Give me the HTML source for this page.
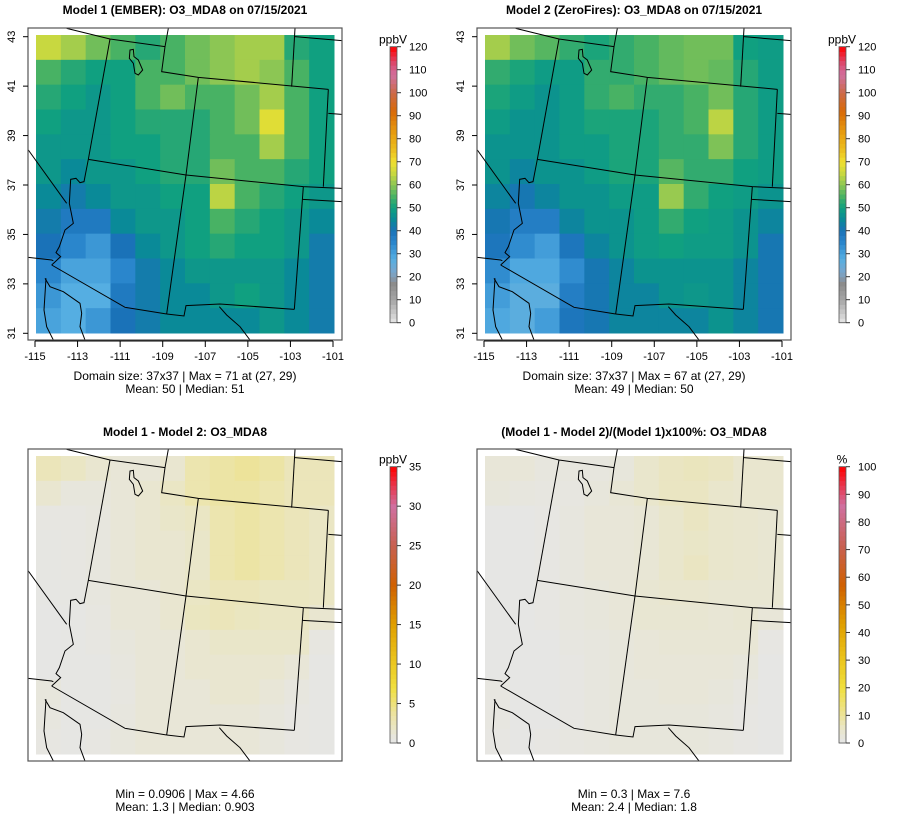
<!DOCTYPE html>
<html><head><meta charset="utf-8"><style>
body{margin:0;background:#fff;}
svg{display:block;font-family:"Liberation Sans",sans-serif;}
</style></head><body>
<svg id="chart" width="900" height="840" viewBox="0 0 900 840"></svg>
<script>
// ---- data (12x12 coarse grids, rows north->south, cols west->east) ----
const model1Grid=[
[65,62,58,55,52,55,58,60,62,62,52,50],
[55,52,50,50,55,55,58,60,62,60,55,50],
[52,50,48,50,55,58,55,55,58,62,55,50],
[50,48,48,50,52,52,52,55,58,68,55,50],
[48,48,48,50,50,52,52,55,55,62,55,50],
[48,45,48,48,50,52,52,58,55,55,52,50],
[45,42,45,48,48,50,50,64,55,52,50,48],
[42,38,38,45,48,48,50,55,52,50,48,45],
[40,35,32,40,45,48,50,52,50,50,48,42],
[35,30,30,35,42,45,48,48,48,48,45,42],
[32,28,28,38,42,45,45,48,50,48,45,42],
[30,28,32,40,42,45,45,45,45,48,45,42]];
const model2Grid=[
[62,58,56,53,51,53,55,57,58,58,50,49],
[53,51,49,49,53,53,55,57,58,57,52,49],
[51,49,47,49,53,55,53,53,55,58,52,49],
[49,47,47,49,51,51,51,53,55,64,52,49],
[47,47,47,49,49,51,51,53,53,59,52,49],
[47,44,47,47,49,51,51,56,53,53,50,49],
[44,41,44,47,47,49,49,61,53,50,49,47],
[41,37,37,44,47,47,49,53,50,49,47,44],
[39,34,31,39,44,47,49,50,49,49,47,41],
[34,29,29,34,41,44,47,47,47,47,44,41],
[31,27,27,37,41,44,44,47,48,47,44,41],
[29,27,31,39,41,44,44,44,44,47,44,41]];
const diffGrid=[
[2.5,2,1.5,1.2,1.2,1.5,3,3.5,4,3.5,2.5,2.5],
[1.5,1,1,1.2,1.5,2,3,3.5,3.5,3,2.5,2.5],
[0.5,0.5,0.8,1.2,1.5,1.8,2,3,3.5,3,2.5,2],
[0.4,0.5,0.8,1.2,1.5,1.5,1.8,3,3.5,3,2.5,2],
[0.4,0.5,0.8,1.2,1.5,1.5,1.8,3,3.5,3,2.5,2],
[0.3,0.4,0.8,1.2,1.2,1.5,2,2.5,2.5,2.2,2.2,2],
[0.2,0.3,0.6,1.2,1.2,1.5,2.2,2.5,2.2,2,2,1.5],
[0.2,0.3,0.5,1,1.2,1.2,1.5,1.8,1.8,1.8,1.8,0.6],
[0.2,0.3,0.3,0.8,1.2,1.2,1.5,1.5,1.5,1.5,1.2,0.3],
[1,0.3,0.3,0.6,1.2,1.2,1.2,1.5,1.5,1.2,0.8,0.3],
[0.8,0.3,0.3,0.8,1.2,1.2,1.2,1.2,1.2,1,0.5,0.3],
[0.5,0.3,0.5,1,1.2,1.2,1.2,1.2,1.2,1,0.5,0.3]];
const pctGrid=[
[3,3,2,2,2,2.5,5,6,6.5,6,4.5,4.5],
[2.5,2,1.5,1.5,2.5,3.5,5,6,6,5,4.5,4.5],
[0.5,0.5,1,2,3,3,3.5,5,6,5,4.5,4],
[0.5,0.5,1,2,3,3,3.5,5,5.5,5,4.5,4],
[0.5,0.5,1,2,3,3,3.5,5,6,5,4.5,4],
[0.5,0.5,1,2,2.5,3,4,4.5,4.5,4,4,4],
[0.5,0.5,1,2,2.5,3,4,4,4,3.5,4,3],
[0.5,0.5,0.5,1.5,2,2.5,3,3.5,3.5,3.5,3.5,1],
[0.5,0.5,0.5,1,2,2.5,3,3,3,3,2.5,0.5],
[1.5,0.5,0.5,1,2,2.5,2.5,3,3,2.5,1.5,0.5],
[1.5,0.5,0.5,1,2,2.5,2.5,2.5,2.5,2,1,0.5],
[1,0.5,1,1.5,2,2.5,2.5,2.5,2.5,2,1,0.5]];
const xTickLabels=["-115","-113","-111","-109","-107","-105","-103","-101"];
const yTickLabels=["43","41","39","37","35","33","31"];
const ppbTicks=[0,10,20,30,40,50,60,70,80,90,100,110,120];
const diffTicks=[0,5,10,15,20,25,30,35];
const pctTicks=[0,10,20,30,40,50,60,70,80,90,100];

const ozStops=[[0,"#e6e6e6"],[10,"#a6a6a6"],[17,"#8c8c8c"],[22,"#7aa6cc"],[28,"#55aee2"],[35,"#2a86cc"],[40,"#1a72b8"],[45,"#0a8a98"],[50,"#10a080"],[55,"#48b264"],[60,"#8cc654"],[65,"#c8d840"],[70,"#f0e030"],[75,"#ecc020"],[82,"#e8a010"],[92,"#d86a08"],[100,"#cc6a48"],[108,"#d070a0"],[114,"#e04060"],[120,"#ff0000"]];
const diffStops=[[0,"#e6e6e6"],[1,"#e7e6dc"],[2,"#eae6c4"],[4,"#ede39a"],[7,"#f0e040"],[10,"#ecc820"],[15,"#e0a000"],[20,"#d06000"],[25,"#c86050"],[30,"#d070a0"],[35,"#ff0000"]];
const pctStops=[[0,"#e6e6e6"],[2,"#e7e6de"],[5,"#e9e6cc"],[10,"#ede39a"],[20,"#f0e040"],[29,"#ecc820"],[43,"#e0a000"],[57,"#d06000"],[71,"#c86050"],[86,"#d070a0"],[100,"#ff0000"]];

function hex(c){return [1,3,5].map(i=>parseInt(c.substr(i,2),16));}
function colorAt(stops,v){
  if(v<=stops[0][0])return stops[0][1];
  for(let i=1;i<stops.length;i++){if(v<=stops[i][0]){const a=stops[i-1],b=stops[i];const t=(v-a[0])/(b[0]-a[0]);const ca=hex(a[1]),cb=hex(b[1]);return "rgb("+ca.map((x,k)=>Math.round(x+(cb[k]-x)*t)).join(",")+")";}}
  return stops[stops.length-1][1];
}
const NS="http://www.w3.org/2000/svg";
const svg=document.getElementById('chart');
function el(tag,attrs,parent){const e=document.createElementNS(NS,tag);for(const k in attrs)e.setAttribute(k,attrs[k]);(parent||svg).appendChild(e);return e;}
function txt(s,attrs,parent){const e=el('text',attrs,parent);e.textContent=s;return e;}

const borders=[
"M140,25 L270,57 L435,80","M445,25 L435,80 L425,155 L535,172 L925,208","M825,25 L815,200","M825,50 L965,62",
"M925,208 L910,500","M925,280 L965,283","M498,465 L850,500 L965,505","M270,57 L205,418","M205,418 L498,465",
"M535,172 L498,465","M498,465 L440,882","M850,500 L823,868","M848,538 L965,545",
"M823,868 L600,852 L498,857 L492,888 L440,882","M440,882 L315,862 L95,735","M25,390 L140,550",
"M205,418 L192,485 L180,488 L168,475 L152,478 L148,550 L160,610 L135,630 L118,680 L108,698 L122,710 L95,735",
"M25,712 L95,720 L100,722",
"M75,775 L90,800 L130,815 L180,850 L185,880 L180,920 L195,960","M78,775 L72,870 L80,920 L100,960",
"M598,860 L620,885 L660,920 L690,960",
"M330,90 L340,88 L342,110 L355,120 L368,150 L355,165 L345,160 L340,130 L328,115 Z"];

const defs=el('defs',{});
function panel(ox,oy,grid,stops,opts){
  const g=el('g',{});
  const rx=36+ox, ry=35+oy, rw=298, rh=298;
  const cw=rw/grid[0].length, ch=rh/grid.length;
  const rg=el('g',{},g);
  
  
  grid.forEach((row,i)=>row.forEach((v,j)=>{
    const r=el('rect',{x:rx+j*cw,y:ry+i*ch,width:cw+0.5,height:ch+0.5,fill:colorAt(stops,v)},rg);
    
    
  }));
  const cp=el('clipPath',{id:'cp'+opts.id},defs);
  el('rect',{x:28+ox,y:28+oy,width:314,height:312},cp);
  const clipG=el('g',{'clip-path':'url(#cp'+opts.id+')'},g);
  const mg=el('g',{transform:`translate(${20+ox},${20+oy}) scale(0.33333)`,fill:'none',stroke:'#000','stroke-width':3},clipG);
  
  
  borders.forEach(d=>el('path',{d:d},mg));
  const box=el('rect',{x:28+ox,y:28+oy,width:314,height:312,fill:'none',stroke:'#555','stroke-width':1.2},g);
  
  
  txt(opts.title,{x:185+ox,y:14+oy+(oy?1:0),'text-anchor':'middle','font-size':12,'font-weight':'bold'},g);
  if(opts.axes){
    const xa=el('g',{},g);
    xTickLabels.forEach((t,i)=>{const x=35+ox+i*(298/7);el('line',{x1:x,x2:x,y1:341+oy,y2:347+oy,stroke:'#000'},xa);txt(t,{x:x,y:360+oy,'text-anchor':'middle','font-size':11},xa);});
    el('line',{x1:35+ox,x2:333+ox,y1:341+oy,y2:341+oy,stroke:'#000'},xa);
    const ya=el('g',{},g);
    yTickLabels.forEach((t,i)=>{const y=36.7+oy+i*(296.6/6);el('line',{x1:23+ox,x2:28+ox,y1:y,y2:y,stroke:'#000'},ya);txt(t,{x:15+ox,y:y,'text-anchor':'middle','font-size':11,transform:`rotate(-90 ${15+ox} ${y})`},ya);});
  }
  txt(opts.s1,{x:185+ox,y:opts.sy+oy,'text-anchor':'middle','font-size':12},g);
  txt(opts.s2,{x:185+ox,y:opts.sy+13+oy,'text-anchor':'middle','font-size':12},g);
  const cb=el('g',{},g);
  const ticks=opts.ticks, mx=ticks[ticks.length-1];
  const top=opts.cbTop+oy, bot=opts.cbBot+oy, bx=390+ox;
  const n=60;
  for(let k=0;k<n;k++){const v0=k*mx/n;el('rect',{x:bx,y:bot-(k+1)*(bot-top)/n,width:7,height:(bot-top)/n+0.6,fill:colorAt(stops,v0+mx/n/2)},cb);}
  el('rect',{x:bx,y:top,width:7,height:bot-top,fill:'none',stroke:'#555','stroke-width':0.8},cb);
  ticks.forEach(t=>{const y=bot-(t/mx)*(bot-top);el('line',{x1:bx+7,x2:bx+11,y1:y,y2:y,stroke:'#333'},cb);txt(String(t),{x:bx+19,y:y+4,'font-size':11},cb);});
  txt(opts.unit,{x:bx+3,y:top-3,'text-anchor':'middle','font-size':12},cb);
}
panel(0,0,model1Grid,ozStops,{id:1,name:'panel-model1',title:'Model 1 (EMBER): O3_MDA8 on 07/15/2021',axes:true,s1:'Domain size: 37x37 | Max = 71 at (27, 29)',s2:'Mean: 50 |  Median: 51',sy:380,ticks:ppbTicks,cbTop:46.7,cbBot:322.7,unit:'ppbV'});
panel(449,0,model2Grid,ozStops,{id:2,name:'panel-model2',title:'Model 2 (ZeroFires): O3_MDA8 on 07/15/2021',axes:true,s1:'Domain size: 37x37 | Max = 67 at (27, 29)',s2:'Mean: 49 |  Median: 50',sy:380,ticks:ppbTicks,cbTop:46.7,cbBot:322.7,unit:'ppbV'});
panel(0,421,diffGrid,diffStops,{id:3,name:'panel-difference',title:'Model 1 - Model 2: O3_MDA8',axes:false,s1:'Min = 0.0906 | Max = 4.66',s2:'Mean: 1.3 |  Median: 0.903',sy:377,ticks:diffTicks,cbTop:45.7,cbBot:322,unit:'ppbV'});
panel(449,421,pctGrid,pctStops,{id:4,name:'panel-percent-difference',title:'(Model 1 - Model 2)/(Model 1)x100%: O3_MDA8',axes:false,s1:'Min = 0.3 | Max = 7.6',s2:'Mean: 2.4 |  Median: 1.8',sy:377,ticks:pctTicks,cbTop:45.7,cbBot:322,unit:'%'});
</script>
</body></html>
